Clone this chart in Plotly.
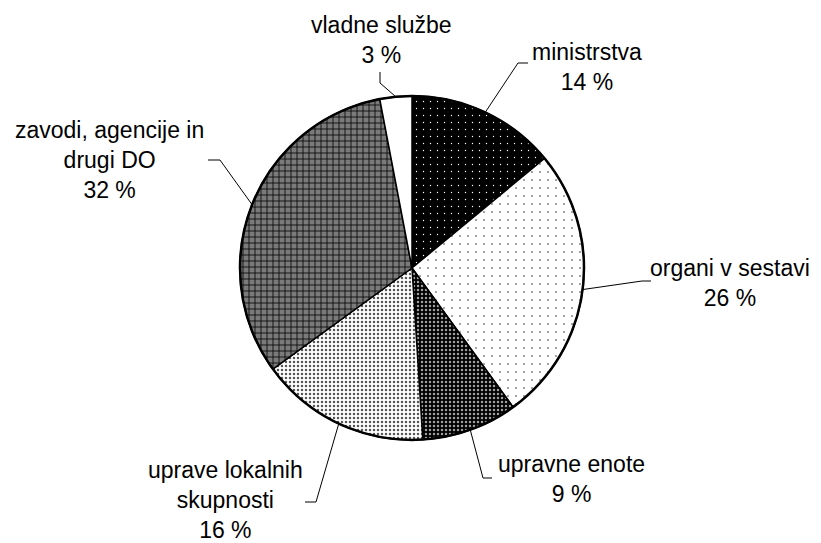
import math
import plotly.graph_objects as go

# ---- data ----
labels = ["ministrstva", "organi v sestavi", "upravne enote",
          "uprave lokalnih skupnosti", "zavodi, agencije in drugi DO", "vladne službe"]
label_text = ["ministrstva", "organi v sestavi", "upravne enote",
              "uprave lokalnih<br>skupnosti", "zavodi, agencije in<br>drugi DO", "vladne službe"]
values = [14, 26, 9, 16, 32, 3]

# ---- style ----
W, H = 821, 543
CX, CY, R = 412, 268, 172
FONT = "Arial, 'Liberation Sans', sans-serif"
FS = 23

pat_shape = [".", ".", ".", ".", "+", ""]
pat_bg = ["black", "white", "black", "white", "#7a7a7a", "white"]
pat_fg = ["white", "#222222", "#a0a0a0", "#555555", "black", "white"]
pat_size = [7, 8, 4, 4, 6, 8]
pat_sol = [0.03, 0.03, 0.3, 0.3, 0.25, 0.1]

# label placement (pixel): text centre, elbow point, end of horizontal tick
text_pos = [(587, 67), (730, 283), (571, 479), (225, 500), (109, 160), (381, 40)]
elbow = [(518, 63), (642, 281), (483, 478), (316, 502), (220, 160), (380, 83)]
tick_end = [(528, 63), (651, 281), (492, 478), (305, 502), (208, 160), (380, 72)]

fig = go.Figure()
fig.add_trace(go.Pie(
    labels=labels, values=values, sort=False, direction="clockwise", rotation=0,
    textinfo="none", hoverinfo="skip", showlegend=False,
    marker=dict(colors=pat_bg, line=dict(color="black", width=1.5),
                pattern=dict(shape=pat_shape, bgcolor=pat_bg, fgcolor=pat_fg,
                             size=pat_size, solidity=pat_sol, fillmode="replace")),
    domain=dict(x=[(CX - R) / W, (CX + R) / W],
                y=[(H - CY - R) / H, (H - CY + R) / H]),
))

shapes = []
# outer rim
shapes.append(dict(type="circle", xref="x", yref="y", x0=CX - R, x1=CX + R,
                   y0=CY - R, y1=CY + R, line=dict(color="black", width=2.5)))
total = sum(values)
cum = 0
annotations = []
for i, v in enumerate(values):
    mid = (cum + v / 2) / total * 2 * math.pi
    cum += v
    ex = CX + R * math.sin(mid)
    ey = CY - R * math.cos(mid)
    path = f"M {ex},{ey} L {elbow[i][0]},{elbow[i][1]} L {tick_end[i][0]},{tick_end[i][1]}"
    shapes.append(dict(type="path", xref="x", yref="y", path=path,
                       line=dict(color="black", width=1)))
    pct = round(v / total * 100)
    annotations.append(dict(x=text_pos[i][0], y=text_pos[i][1], xref="x", yref="y",
                            text=f"{label_text[i]}<br>{pct} %", showarrow=False,
                            align="center", xanchor="center", yanchor="middle",
                            font=dict(family=FONT, size=FS, color="black")))

fig.update_layout(
    width=W, height=H, margin=dict(l=0, r=0, t=0, b=0),
    paper_bgcolor="white", plot_bgcolor="rgba(0,0,0,0)",
    xaxis=dict(range=[0, W], visible=False, fixedrange=True),
    yaxis=dict(range=[H, 0], visible=False, fixedrange=True),
    shapes=shapes, annotations=annotations,
)
fig.write_html("out.html", config={"displayModeBar": False},
               post_script="document.body.style.margin='0';")
